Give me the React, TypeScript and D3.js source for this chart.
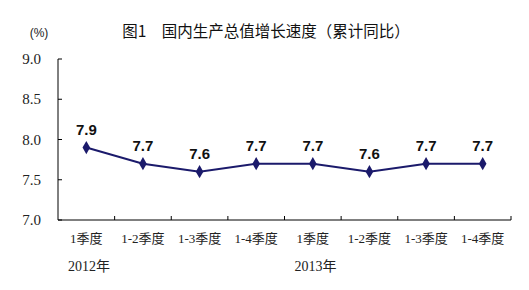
import React from "react";
import * as d3 from "d3";

const categories = ["1季度", "1-2季度", "1-3季度", "1-4季度", "1季度 ", "1-2季度 ", "1-3季度 ", "1-4季度 "];
const values = [7.9, 7.7, 7.6, 7.7, 7.7, 7.6, 7.7, 7.7];
const yTicks = [7.0, 7.5, 8.0, 8.5, 9.0];
const years = [{ label: "2012年", index: 0 }, { label: "2013年", index: 4 }];
const title = "图1　国内生产总值增长速度（累计同比）";

export default function App() {
  const W = 529, H = 290;
  const left = 58, right = 511, top = 59, bottom = 220;
  const x = d3.scaleBand<string>().domain(categories).range([left, right]);
  const y = d3.scaleLinear().domain([7, 9]).range([bottom, top]);
  const cx = (c: string) => (x(c) as number) + x.bandwidth() / 2;
  const line = d3.line<number>().x((_, i) => cx(categories[i])).y((d) => y(d));
  const serif = "'Times New Roman', 'Liberation Serif', 'Noto Sans CJK SC', serif";
  const cjk = "'Noto Sans CJK SC', sans-serif";
  const navy = "#1b1a6b";
  const edges = categories.map((c) => (x(c) as number)).concat([right]);
  return (
    <div style={{ position: "absolute", left: 0, top: 0 }}>
      <svg width={W} height={H} style={{ display: "block", background: "#fff" }}>
        <text x={39} y={37} fontFamily="'Liberation Sans', Arial, sans-serif" fontSize={12} textAnchor="middle" fill="#222">(%)</text>
        <text x={266} y={37} fontFamily={cjk} fontSize={15.5} textAnchor="middle" fill="#111">{title}</text>
        {yTicks.map((t) => (
          <g key={t}>
            <line x1={left} x2={left + 4} y1={y(t)} y2={y(t)} stroke="#000" />
            <text x={41} y={y(t) + 5} textAnchor="end" fontFamily={serif} fontSize={15} fill="#222">{t.toFixed(1)}</text>
          </g>
        ))}
        <line x1={left} x2={left} y1={top} y2={bottom} stroke="#000" />
        <line x1={left} x2={right} y1={bottom} y2={bottom} stroke="#000" />
        {edges.slice(1).map((e, i) => (
          <line key={i} x1={e} x2={e} y1={bottom} y2={bottom - 4} stroke="#000" />
        ))}
        {categories.map((c) => (
          <text key={c} x={cx(c)} y={243} textAnchor="middle" fontFamily={serif} fontSize={13} fill="#222">{c.trim()}</text>
        ))}
        {years.map((yr) => (
          <text key={yr.label} x={(x(categories[yr.index]) as number) + 10} y={271} fontFamily={serif} fontSize={14} fill="#222">{yr.label}</text>
        ))}
        <path d={line(values) || ""} fill="none" stroke={navy} strokeWidth={2} />
        {values.map((v, i) => {
          const px = cx(categories[i]);
          const py = y(v);
          return (
            <g key={i}>
              <path d={d3.symbol(d3.symbolDiamond, 50)() || ""} transform={`translate(${px},${py})`} fill={navy} />
              <text x={px} y={py - 13} textAnchor="middle" fontFamily="'Liberation Sans', Arial, sans-serif" fontWeight="bold" fontSize={15} fill="#111">{v.toFixed(1)}</text>
            </g>
          );
        })}
      </svg>
    </div>
  );
}
